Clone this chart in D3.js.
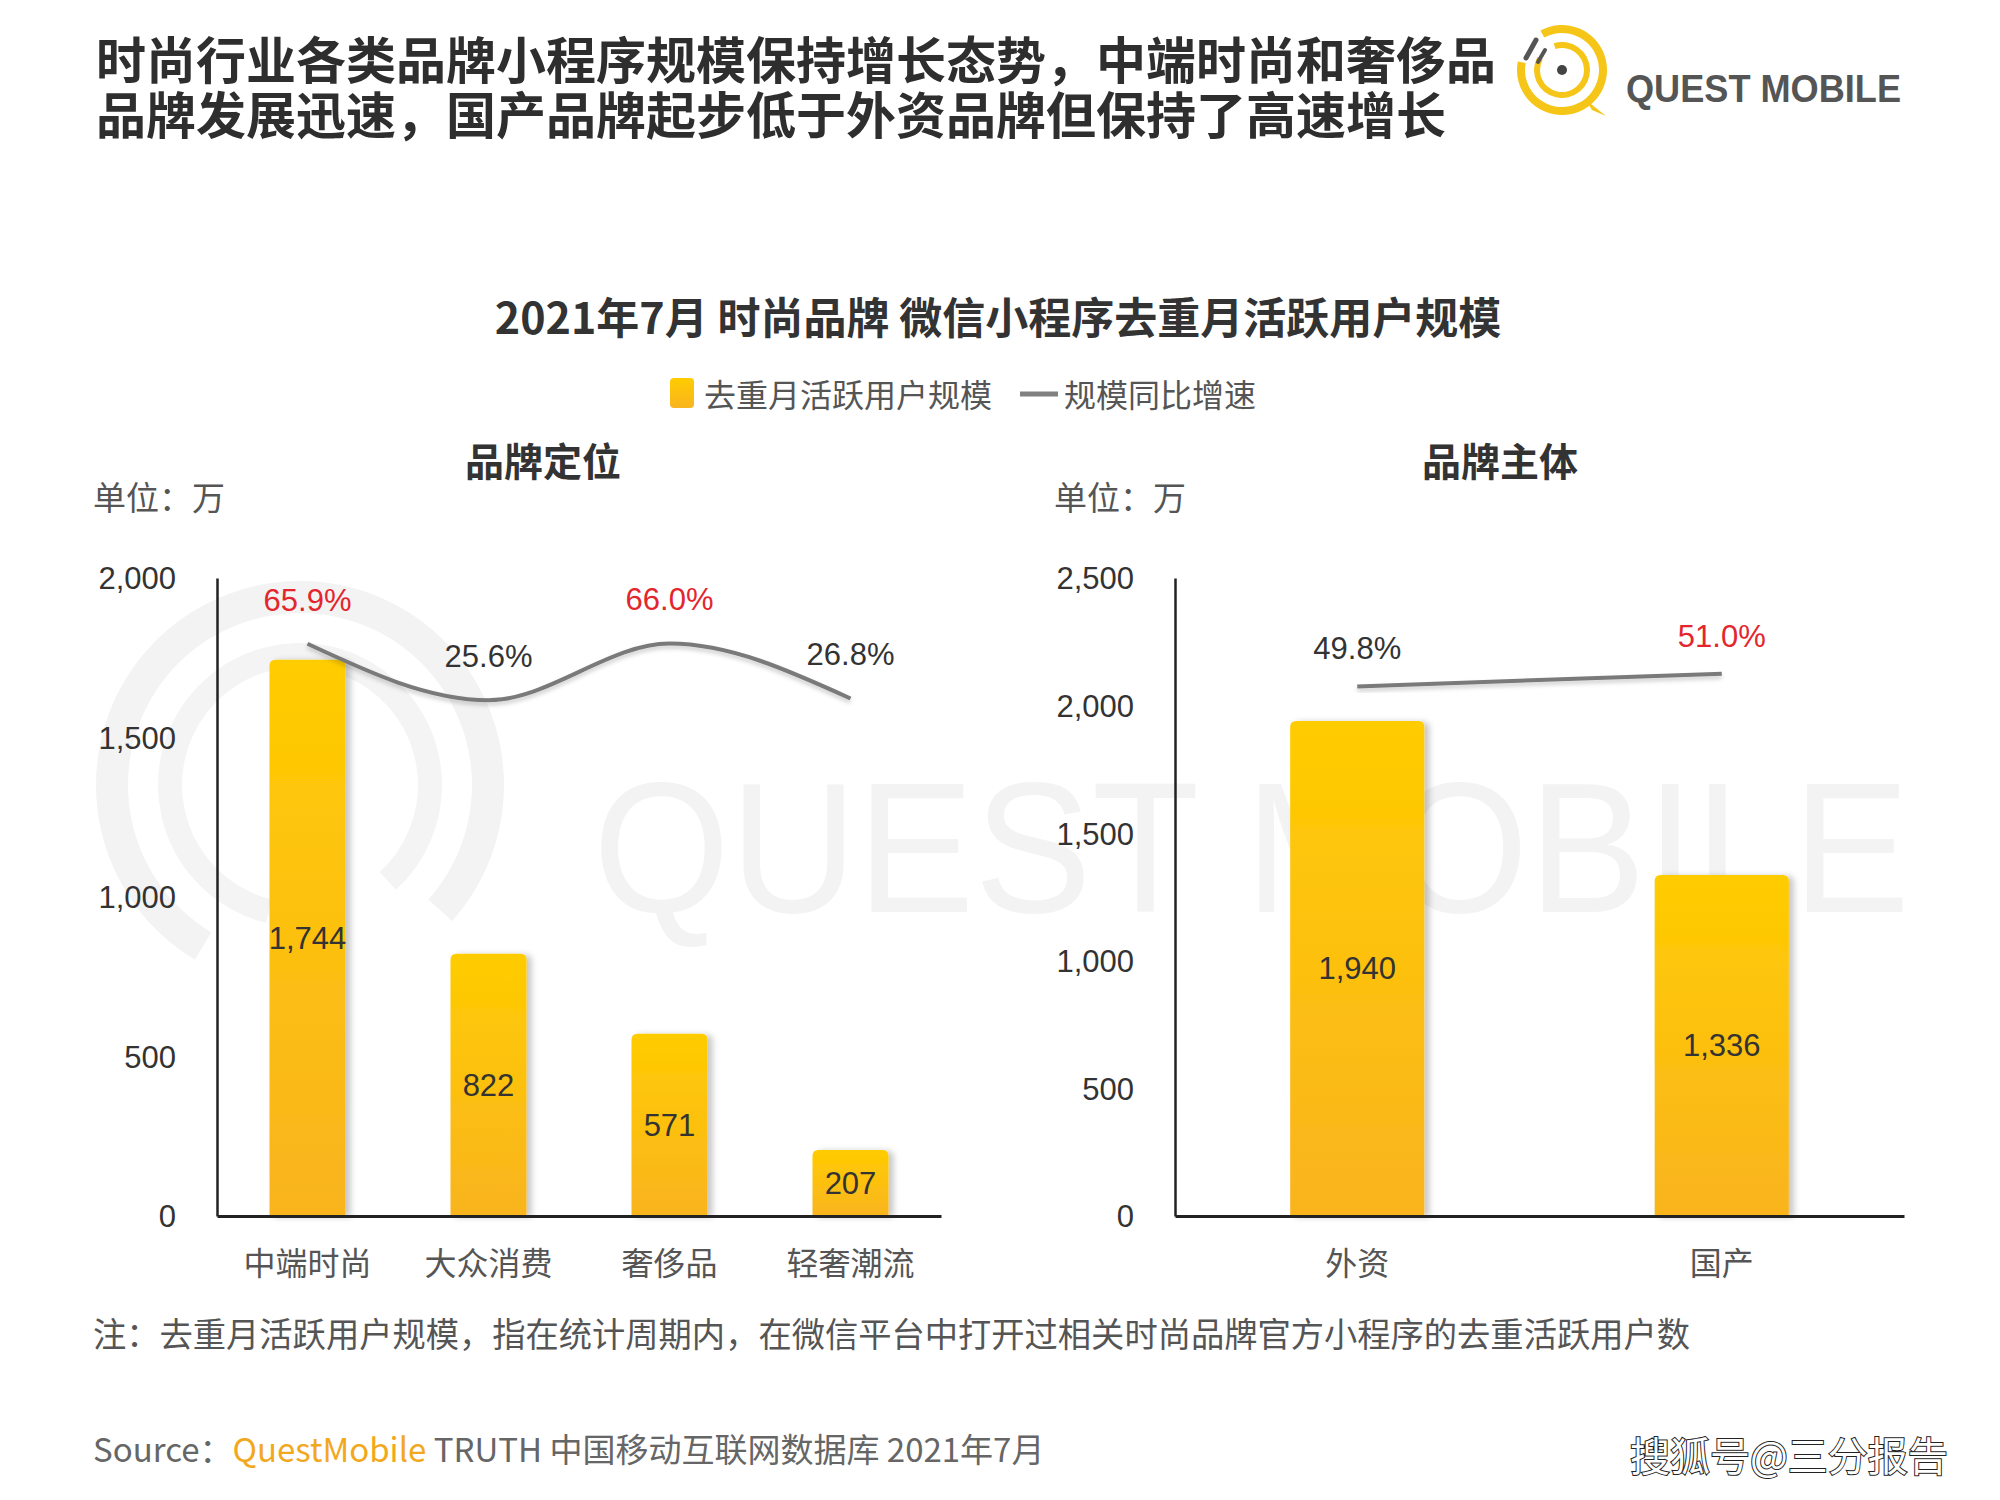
<!DOCTYPE html>
<html><head><meta charset="utf-8">
<script src="https://cdn.jsdelivr.net/npm/d3@7"></script>
<style>body{margin:0;background:#fff;} svg{display:block;}</style>
</head><body>
<svg id="chart" width="2000" height="1500"></svg>
<script>
// ---------------- data ----------------
const headlineLines = ["时尚行业各类品牌小程序规模保持增长态势，中端时尚和奢侈品", "品牌发展迅速，国产品牌起步低于外资品牌但保持了高速增长"];
const chartTitle = "2021年7月 时尚品牌 微信小程序去重月活跃用户规模";
const legendLabels = ["去重月活跃用户规模", "规模同比增速"];

const positionCats = ["中端时尚", "大众消费", "奢侈品", "轻奢潮流"];
const positionUsers = [1744, 822, 571, 207];
const positionGrowth = [65.9, 25.6, 66.0, 26.8];
const positionTicks = [0, 500, 1000, 1500, 2000];

const originCats = ["外资", "国产"];
const originUsers = [1940, 1336];
const originGrowth = [49.8, 51.0];
const originTicks = [0, 500, 1000, 1500, 2000, 2500];

const noteText = "注：去重月活跃用户规模，指在统计周期内，在微信平台中打开过相关时尚品牌官方小程序的去重活跃用户数";

// ---------------- setup ----------------
const CJK = "'Noto Sans CJK SC','Noto Sans',sans-serif";
const NUM = "'Liberation Sans',Arial,sans-serif";
const svg = d3.select("#chart");
const defs = svg.append("defs");

const grad = defs.append("linearGradient").attr("id", "barGrad").attr("x1", 0).attr("y1", 0).attr("x2", 0).attr("y2", 1);
grad.append("stop").attr("offset", "0%").attr("stop-color", "#FFCC00");
grad.append("stop").attr("offset", "100%").attr("stop-color", "#F9B41F");

const fShadow = defs.append("filter").attr("id", "barShadow").attr("x", "-20%").attr("y", "-10%").attr("width", "150%").attr("height", "130%");
fShadow.append("feDropShadow").attr("dx", 5).attr("dy", 1).attr("stdDeviation", 3).attr("flood-color", "#000").attr("flood-opacity", 0.22);
const lShadow = defs.append("filter").attr("id", "lineShadow").attr("x", "-10%").attr("y", "-50%").attr("width", "120%").attr("height", "200%");
lShadow.append("feDropShadow").attr("dx", 0).attr("dy", 3).attr("stdDeviation", 2).attr("flood-color", "#000").attr("flood-opacity", 0.2);

// ---------------- background watermark ----------------
const wm = svg.append("g").attr("class", "watermark");
const arcGen = d3.arc();
wm.append("path").attr("transform", "translate(300,785)")
  .attr("d", arcGen({innerRadius: 172, outerRadius: 204, startAngle: -2.6, endAngle: 2.3}))
  .attr("fill", "#f3f3f3");
wm.append("path").attr("transform", "translate(300,785)")
  .attr("d", arcGen({innerRadius: 118, outerRadius: 142, startAngle: -2.9, endAngle: 2.4}))
  .attr("fill", "#f4f4f4");
wm.append("text").attr("x", 593).attr("y", 912).attr("textLength", 1317).attr("lengthAdjust", "spacingAndGlyphs")
  .attr("font-family", NUM).attr("font-size", 186).attr("fill", "#f3f3f3").text("QUEST MOBILE");

// ---------------- headline (one text, two lines) ----------------
const head = svg.append("text")
  .attr("font-family", CJK).attr("font-size", 50).attr("font-weight", 700).attr("fill", "#2e2e2e");
head.selectAll("tspan").data(headlineLines).join("tspan")
  .attr("x", 96).attr("y", (d, i) => 57 + i * 55)
  .attr("dominant-baseline", "central")
  .text(d => d);

// ---------------- logo ----------------
const logo = svg.append("g").attr("transform", "translate(1562,70)");
logo.append("path").attr("d", arcGen({innerRadius: 37, outerRadius: 45, startAngle: -0.5, endAngle: 4.9})).attr("fill", "#F5C518");
logo.append("path").attr("d", "M24,30 L44,46 L30,40 Z").attr("fill", "#F5C518");
logo.append("path").attr("d", arcGen({innerRadius: 22, outerRadius: 28, startAngle: -0.3, endAngle: 5.2})).attr("fill", "#F5C518");
logo.append("circle").attr("r", 5).attr("fill", "#444");
logo.append("line").attr("x1", -36).attr("y1", -12).attr("x2", -26).attr("y2", -30).attr("stroke", "#555").attr("stroke-width", 5).attr("stroke-linecap", "round");
logo.append("line").attr("x1", -24).attr("y1", -8).attr("x2", -17).attr("y2", -20).attr("stroke", "#555").attr("stroke-width", 4).attr("stroke-linecap", "round");
svg.append("text").attr("x", 1626).attr("y", 102).attr("textLength", 275).attr("lengthAdjust", "spacingAndGlyphs")
  .attr("font-family", NUM).attr("font-size", 38).attr("font-weight", 700).attr("fill", "#555").text("QUEST MOBILE");

// ---------------- chart title + legend ----------------
svg.append("text").attr("x", 998).attr("y", 315).attr("text-anchor", "middle").attr("dominant-baseline", "central")
  .attr("font-family", CJK).attr("font-size", 43).attr("font-weight", 700).attr("fill", "#333").text(chartTitle);

const lg = svg.append("g");
lg.append("rect").attr("x", 670).attr("y", 378).attr("width", 24).attr("height", 30).attr("rx", 4).attr("fill", "url(#barGrad)");
lg.append("text").attr("x", 704).attr("y", 393).attr("dominant-baseline", "central")
  .attr("font-family", CJK).attr("font-size", 32).attr("fill", "#555").text(legendLabels[0]);
lg.append("line").attr("x1", 1020).attr("x2", 1058).attr("y1", 394).attr("y2", 394).attr("stroke", "#808080").attr("stroke-width", 5);
lg.append("text").attr("x", 1064).attr("y", 393).attr("dominant-baseline", "central")
  .attr("font-family", CJK).attr("font-size", 32).attr("fill", "#555").text(legendLabels[1]);

// ---------------- panels ----------------
const fmt = d3.format(",");
function barPath(x, y, w, h, r) {
  r = Math.min(r, h / 2);
  return `M${x},${y + h}V${y + r}Q${x},${y} ${x + r},${y}H${x + w - r}Q${x + w},${y} ${x + w},${y + r}V${y + h}Z`;
}

function drawPanel(cfg) {
  const g = svg.append("g");
  const yTop = 578, yBot = 1216;
  const x = d3.scaleBand().domain(cfg.cats).range([cfg.x0, cfg.x1]).paddingInner(cfg.pi).paddingOuter(cfg.po);
  const y = d3.scaleLinear().domain([0, d3.max(cfg.ticks)]).range([yBot, yTop]);
  const y2 = d3.scaleLinear().domain(cfg.g2domain).range(cfg.g2range);
  const bw = x.bandwidth();

  g.append("text").attr("x", cfg.subX).attr("y", 459).attr("text-anchor", "middle").attr("dominant-baseline", "central")
    .attr("font-family", CJK).attr("font-size", 39).attr("font-weight", 700).attr("fill", "#333").text(cfg.subtitle);
  g.append("text").attr("x", cfg.unitX).attr("y", 496).attr("dominant-baseline", "central")
    .attr("font-family", CJK).attr("font-size", 33).attr("fill", "#555").text("单位：万");

  g.append("g").selectAll("path").data(cfg.users).join("path")
    .attr("d", (d, i) => barPath(x(cfg.cats[i]), y(d), bw, yBot - y(d), 6))
    .attr("fill", "url(#barGrad)").attr("filter", "url(#barShadow)");

  const yAxis = g.append("g").attr("transform", `translate(${cfg.x0},0)`)
    .call(d3.axisLeft(y).tickValues(cfg.ticks).tickFormat(fmt).tickSize(0).tickPadding(41));
  yAxis.select(".domain").attr("stroke", "#222").attr("stroke-width", 2.5);
  yAxis.selectAll("text").attr("font-family", NUM).attr("font-size", 31).attr("fill", "#333").attr("dy", "0.35em");

  const xAxis = g.append("g").attr("transform", `translate(0,${yBot})`)
    .call(d3.axisBottom(x).tickSize(0).tickPadding(36));
  xAxis.select(".domain").attr("stroke", "#222").attr("stroke-width", 3);
  xAxis.selectAll("text").attr("font-family", CJK).attr("font-size", 32).attr("fill", "#555");

  g.append("g").selectAll("text").data(cfg.users).join("text")
    .attr("x", (d, i) => x(cfg.cats[i]) + bw / 2).attr("y", d => (y(d) + yBot) / 2)
    .attr("text-anchor", "middle").attr("dy", "0.35em")
    .attr("font-family", NUM).attr("font-size", 31).attr("fill", "#333").text(d => fmt(d));

  const line = d3.line().x((d, i) => x(cfg.cats[i]) + bw / 2).y(d => y2(d)).curve(d3.curveMonotoneX);
  g.append("path").datum(cfg.growth).attr("d", line).attr("fill", "none")
    .attr("stroke", "#7a7a7a").attr("stroke-width", 4).attr("filter", "url(#lineShadow)");

  g.append("g").selectAll("text").data(cfg.growth).join("text")
    .attr("x", (d, i) => x(cfg.cats[i]) + bw / 2).attr("y", d => y2(d) - cfg.labelOffset)
    .attr("text-anchor", "middle").attr("dy", "0.35em")
    .attr("font-family", NUM).attr("font-size", 31)
    .attr("fill", d => d > 50 ? "#E3262E" : "#333")
    .text(d => d.toFixed(1) + "%");
}

drawPanel({cats: positionCats, users: positionUsers, growth: positionGrowth, ticks: positionTicks,
  x0: 217, x1: 941, pi: 0.58, po: 0.29, g2domain: [0, 100], g2range: [736, 596], labelOffset: 44,
  subtitle: "品牌定位", subX: 543, unitX: 93});
drawPanel({cats: originCats, users: originUsers, growth: originGrowth, ticks: originTicks,
  x0: 1175, x1: 1904, pi: 0.632, po: 0.316, g2domain: [0, 60], g2range: [1216, 578], labelOffset: 38,
  subtitle: "品牌主体", subX: 1500, unitX: 1054});

// ---------------- footer ----------------
svg.append("text").attr("x", 93).attr("y", 1332).attr("dominant-baseline", "central")
  .attr("textLength", 1597).attr("lengthAdjust", "spacingAndGlyphs")
  .attr("font-family", CJK).attr("font-size", 34).attr("fill", "#555").text(noteText);

const src = svg.append("text").attr("x", 93).attr("y", 1448).attr("dominant-baseline", "central")
  .attr("font-family", CJK).attr("font-size", 33).attr("fill", "#666");
src.append("tspan").text("Source：");
src.append("tspan").attr("fill", "#F2A81D").text("QuestMobile");
src.append("tspan").text(" TRUTH 中国移动互联网数据库 2021年7月");

svg.append("text").attr("x", 1630).attr("y", 1454).attr("dominant-baseline", "central")
  .attr("font-family", CJK).attr("font-size", 40).attr("fill", "#fff")
  .attr("stroke", "#222").attr("stroke-width", 2).attr("paint-order", "stroke")
  .text("搜狐号@三分报告");
</script>
</body></html>
